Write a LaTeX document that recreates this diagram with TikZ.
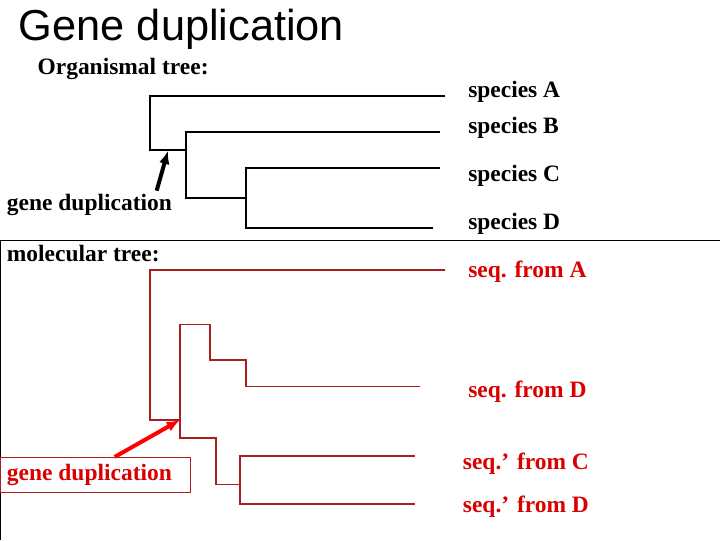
\documentclass[tikz,border=0pt]{standalone}
\usepackage{fontspec}
\setmainfont{Liberation Serif}
\newfontfamily\titlefont{Liberation Sans}
\usetikzlibrary{arrows.meta}
\begin{document}
\begin{tikzpicture}[x=1pt,y=-1pt,
  lbl/.style={font=\bfseries\fontsize{17.6}{20}\selectfont,anchor=west,inner sep=0},
  br/.style={line width=0.8pt},
  rbr/.style={line width=0.8pt,draw={rgb,255:red,170;green,30;blue,30}}]
\useasboundingbox (0,0) rectangle (540,405);
\node[anchor=west,inner sep=0,font=\titlefont\fontsize{32.5}{36}\selectfont] (title) at (14,22) {Gene duplication};
\node[lbl] (org) at (28,52) {Organismal tree:};
\node[lbl] (gd1) at (5,154) {gene duplication};
\node[lbl] (mol) at (5,190) {molecular tree:};
\node[lbl] (sa) at (351,69) {species A};
\node[lbl] (sb) at (351,96) {species B};
\node[lbl] (sc) at (351,132) {species C};
\node[lbl] (sd) at (351,168) {species D};
\node[lbl,text=red!85!black] (ma) at (351,204) {seq. from A};
\node[lbl,text=red!85!black] (md) at (351,294) {seq. from D};
\node[lbl,text=red!85!black] (mc2) at (347,348) {seq.’ from C};
\node[lbl,text=red!85!black] (md2) at (347,380) {seq.’ from D};
\draw[line width=0.6pt] (0,180) -- (540,180);
\draw[line width=0.6pt] (0.5,180) -- (0.5,405);
% organismal tree
\draw[br] (334,72) -- (112.5,72) -- (112.5,112.5) -- (139.5,112.5);
\draw[br] (330,99) -- (139.5,99) -- (139.5,148.5) -- (184.5,148.5);
\draw[br] (330,126) -- (184.5,126) -- (184.5,171) -- (325,171);
\coordinate (n1) at (126,113);
\coordinate (a1) at (117.5,143);
\draw[line width=3pt,-{Latex[length=10pt,width=8pt]}] (a1) -- (n1);
% molecular tree
\draw[rbr] (334,202.5) -- (112.5,202.5) -- (112.5,315) -- (135,315);
\draw[rbr] (135,315) -- (135,243.7) -- (157.5,243.7) -- (157.5,270) -- (184.5,270) -- (184.5,290) -- (315,290);
\draw[rbr] (135,315) -- (135,328.5) -- (162,328.5) -- (162,363.7) -- (180,363.7);
\draw[rbr] (311,342) -- (180,342) -- (180,378) -- (311,378);
\node[rbr,draw,anchor=north west,minimum width=142.5pt,minimum height=26pt,inner sep=0] (gdbox) at (0,342.7) {};
\node[lbl,text=red!85!black] (gd2) at (5,356) {gene duplication};
\coordinate (n2) at (135,315);
\coordinate (a2) at (86,342.7);
\draw[line width=3pt,red,-{Latex[length=10pt,width=8pt]}] (a2) -- (n2);
\end{tikzpicture}
\end{document}
